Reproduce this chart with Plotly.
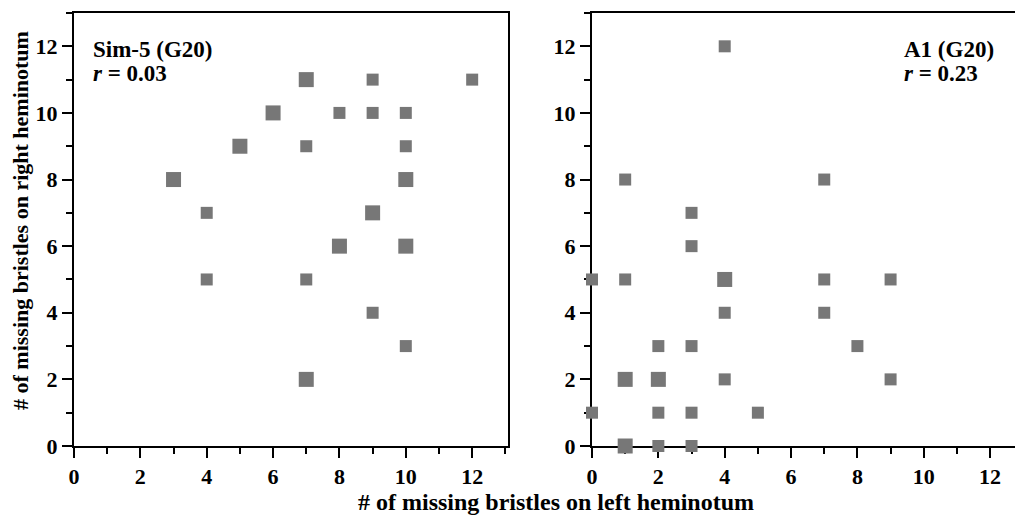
import plotly.graph_objects as go

# Sim-5 (G20) panel: left heminotum (x), right heminotum (y), count of flies at that point
sim_x = [3, 4, 4, 5, 6, 7, 7, 7, 7, 8, 8, 9, 9, 9, 9, 10, 10, 10, 10, 10, 12]
sim_y = [8, 7, 5, 9, 10, 11, 9, 5, 2, 10, 6, 11, 10, 7, 4, 10, 9, 8, 6, 3, 11]
sim_n = [2, 1, 1, 2, 2, 2, 1, 1, 2, 1, 2, 1, 1, 2, 1, 1, 1, 2, 2, 1, 1]

# A1 (G20) panel
a1_x = [4, 1, 7, 3, 3, 0, 1, 4, 7, 9, 4, 7, 2, 3, 8, 1, 2, 4, 9, 0, 2, 3, 5, 1, 2, 3]
a1_y = [12, 8, 8, 7, 6, 5, 5, 5, 5, 5, 4, 4, 3, 3, 3, 2, 2, 2, 2, 1, 1, 1, 1, 0, 0, 0]
a1_n = [1, 1, 1, 1, 1, 1, 1, 2, 1, 1, 1, 1, 1, 1, 1, 2, 2, 1, 1, 1, 1, 1, 1, 2, 1, 1]

panel_labels = ["Sim-5 (G20)", "A1 (G20)"]
r_values = ["0.03", "0.23"]
tick_vals = [0, 2, 4, 6, 8, 10, 12]

x_title = "# of missing bristles on left heminotum"
y_title = "# of missing bristles on right heminotum"

MARK = "#777777"
FONT = "Liberation Serif, Times New Roman, Times, serif"


def sizes(n):
    return [12 if v == 1 else 15 for v in n]


fig = go.Figure()
fig.add_trace(go.Scatter(x=sim_x, y=sim_y, mode="markers", xaxis="x", yaxis="y",
                         marker=dict(symbol="square", size=sizes(sim_n), color=MARK,
                                     opacity=1, line=dict(width=0)),
                         cliponaxis=False, showlegend=False))
fig.add_trace(go.Scatter(x=a1_x, y=a1_y, mode="markers", xaxis="x2", yaxis="y2",
                         marker=dict(symbol="square", size=sizes(a1_n), color=MARK,
                                     opacity=1, line=dict(width=0)),
                         cliponaxis=False, showlegend=False))

tickfont = dict(family=FONT, size=22, color="black")
common = dict(showgrid=False, zeroline=False, showline=True, linecolor="black", linewidth=2,
              ticks="outside", ticklen=10, tickwidth=2, tickcolor="black",
              tickvals=tick_vals, ticktext=[f"<b>{v}</b>" for v in tick_vals],
              tickfont=tickfont, automargin=False, layer="below traces",
              minor=dict(dtick=1, ticks="outside", ticklen=6, tickwidth=2, tickcolor="black"))

fig.update_layout(
    width=1015, height=517,
    margin=dict(l=0, r=0, t=13, b=71),
    paper_bgcolor="white", plot_bgcolor="white",
    font=dict(family=FONT),
    xaxis=dict(domain=[74 / 1015, 508 / 1015], range=[0, 13.08], anchor="y", mirror=True, **common),
    yaxis=dict(domain=[0, 1], range=[0, 13], anchor="x", mirror=True, **common),
    xaxis2=dict(domain=[592 / 1015, 1.0], range=[0, 12.75], anchor="y2", mirror=True, **common),
    yaxis2=dict(domain=[0, 1], range=[0, 13], anchor="x2", mirror=False, **common),
)

ann_font = dict(family=FONT, size=23, color="black")
anns = []
for i, (xr, yr, xpos) in enumerate([("x", "y", 0.52), ("x2", "y2", 9.33)]):
    anns.append(dict(xref=xr, yref=yr, x=xpos, y=11.9, xanchor="left", yanchor="middle",
                     text=f"<b>{panel_labels[i]}</b>", showarrow=False, font=ann_font))
    anns.append(dict(xref=xr, yref=yr, x=xpos, y=11.17, xanchor="left", yanchor="middle",
                     text=f"<b><i>r</i> = {r_values[i]}</b>", showarrow=False, font=ann_font))
anns.append(dict(xref="paper", yref="paper", x=556 / 1015, y=(446 - 502) / 433,
                 xanchor="center", yanchor="middle", text=f"<b>{x_title}</b>",
                 showarrow=False, font=dict(family=FONT, size=24, color="black")))
anns.append(dict(xref="paper", yref="paper", x=20 / 1015, y=(446 - 221) / 433,
                 xanchor="center", yanchor="middle", text=f"<b>{y_title}</b>", textangle=-90,
                 showarrow=False, font=dict(family=FONT, size=22, color="black")))
fig.update_layout(annotations=anns)

fig.write_html("out.html", config={"displayModeBar": False})

# remove the default page margin so the figure sits at the window's top-left corner
with open("out.html", "r", encoding="utf-8") as f:
    html = f.read()
html = html.replace("<head>", "<head><style>html,body{margin:0;padding:0;overflow:hidden;}</style>", 1)
with open("out.html", "w", encoding="utf-8") as f:
    f.write(html)
